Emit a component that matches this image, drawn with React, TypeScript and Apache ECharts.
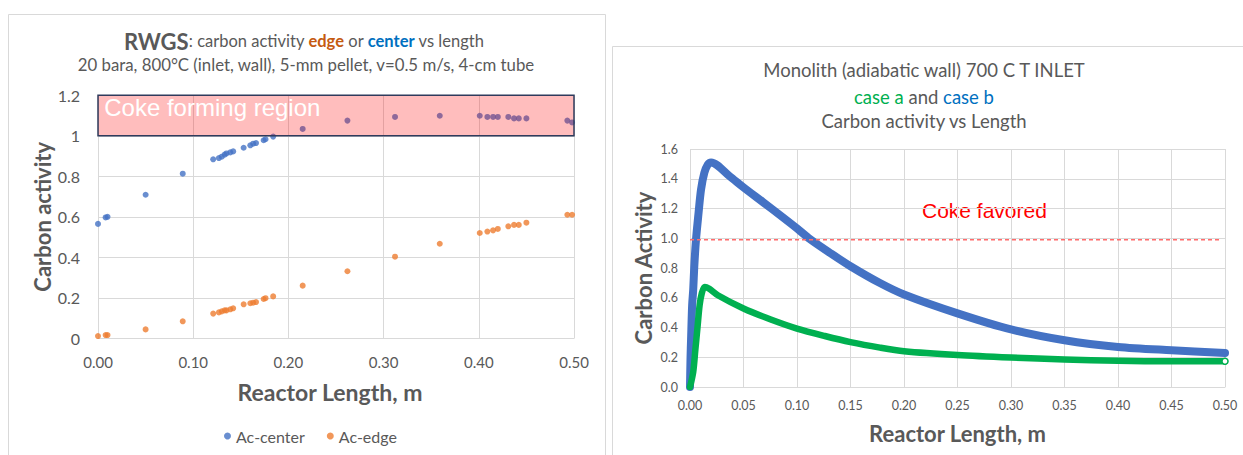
import React, { useEffect, useRef } from "react";
import * as echarts from "echarts";

// ---- Left chart (RWGS) ----
const positions = [0.0, 0.008, 0.010, 0.050, 0.089, 0.121, 0.127, 0.130, 0.133, 0.135, 0.139, 0.142, 0.153, 0.160, 0.163, 0.166, 0.174, 0.176, 0.184, 0.215, 0.262, 0.312, 0.359, 0.401, 0.409, 0.415, 0.420, 0.431, 0.437, 0.442, 0.450, 0.493, 0.498];
const acCenter = [0.565, 0.597, 0.600, 0.709, 0.813, 0.884, 0.890, 0.897, 0.907, 0.913, 0.918, 0.923, 0.941, 0.953, 0.961, 0.964, 0.978, 0.983, 0.996, 1.034, 1.075, 1.093, 1.099, 1.099, 1.093, 1.093, 1.093, 1.093, 1.086, 1.086, 1.086, 1.075, 1.066];
const acEdge = [0.011, 0.016, 0.016, 0.044, 0.084, 0.122, 0.128, 0.133, 0.138, 0.138, 0.143, 0.148, 0.168, 0.173, 0.176, 0.179, 0.194, 0.198, 0.207, 0.260, 0.331, 0.403, 0.467, 0.520, 0.527, 0.533, 0.540, 0.553, 0.560, 0.560, 0.571, 0.610, 0.610];
const cokeRegion = { xFrom: 0, xTo: 0.5, yFrom: 1.0, yTo: 1.2 };

// ---- Right chart (Monolith) ----
const caseBX = [0, 0.0005, 0.001, 0.002, 0.003, 0.004, 0.0056, 0.008, 0.0103, 0.0134, 0.0166, 0.0197, 0.0369, 0.0494, 0.068, 0.0838, 0.100, 0.112, 0.131, 0.150, 0.1775, 0.200, 0.250, 0.300, 0.350, 0.400, 0.450, 0.500];
const caseBY = [0.0, 0.2, 0.32, 0.55, 0.654, 0.811, 0.99, 1.17, 1.327, 1.44, 1.495, 1.51, 1.418, 1.346, 1.244, 1.157, 1.066, 0.995, 0.901, 0.812, 0.699, 0.622, 0.495, 0.387, 0.314, 0.269, 0.247, 0.229];
const caseAX = [0, 0.003, 0.005, 0.007, 0.009, 0.011, 0.0138, 0.018, 0.026, 0.050, 0.0755, 0.100, 0.126, 0.150, 0.1775, 0.200, 0.250, 0.300, 0.350, 0.400, 0.450, 0.500];
const caseAY = [0.0, 0.1, 0.25, 0.4, 0.55, 0.63, 0.673, 0.66, 0.617, 0.528, 0.454, 0.393, 0.343, 0.302, 0.265, 0.241, 0.215, 0.198, 0.185, 0.176, 0.173, 0.173];
const cokeLimitX = [0, 0.495];
const cokeLimitY = [0.99, 0.99];

const GREY = "#595959";
const GRID = "#d9d9d9";
const CAL = "Lato, 'Open Sans', sans-serif";
const ARIAL = "'Liberation Sans', Arial, sans-serif";

const zip = (xs: number[], ys: number[]) => xs.map((x, i) => [x, ys[i]]);

export default function App() {
  const ref = useRef<HTMLDivElement>(null);
  useEffect(() => {
    if (!ref.current) return;
    const chart = echarts.init(ref.current, undefined, { renderer: "svg" });
    const axisLabel = (size: number) => ({ color: GREY, fontSize: size, fontFamily: CAL });
    const caseAData: any[] = zip(caseAX, caseAY);
    const last = caseAData.length - 1;
    caseAData[last] = {
      value: caseAData[last],
      symbol: "circle", symbolSize: 6,
      itemStyle: { color: "#ffffff", borderColor: "#00B050", borderWidth: 1.5 },
    };
    chart.setOption({
      animation: false,
      backgroundColor: "#ffffff",
      graphic: [
        { type: "rect", shape: { x: 8.5, y: 14.5, width: 597, height: 470 }, style: { fill: "none", stroke: GRID, lineWidth: 1 } },
        { type: "rect", shape: { x: 612.5, y: 46.5, width: 660, height: 470 }, style: { fill: "none", stroke: GRID, lineWidth: 1 } },
        {
          type: "text", x: 304, y: 41,
          style: {
            text: "{b|RWGS}{n|: carbon activity }{e|edge}{n| or }{c|center}{n| vs length}",
            textAlign: "center", textVerticalAlign: "middle",
            rich: {
              b: { fontFamily: CAL, fontSize: 22, fontWeight: "bold", fill: GREY },
              n: { fontFamily: CAL, fontSize: 16.5, fill: GREY },
              e: { fontFamily: CAL, fontSize: 16.5, fontWeight: "bold", fill: "#C55A11" },
              c: { fontFamily: CAL, fontSize: 16.5, fontWeight: "bold", fill: "#0070C0" },
            },
          },
        },
        {
          type: "text", x: 306, y: 64,
          style: { text: "20 bara, 800°C (inlet, wall), 5-mm pellet, v=0.5 m/s, 4-cm tube", textAlign: "center", textVerticalAlign: "middle", fontFamily: CAL, fontSize: 16.8, fill: GREY },
        },
        {
          type: "text", x: 924, y: 70,
          style: { text: "Monolith (adiabatic wall) 700 C T INLET", textAlign: "center", textVerticalAlign: "middle", fontFamily: CAL, fontSize: 18.5, fill: GREY },
        },
        {
          type: "text", x: 924, y: 97,
          style: {
            text: "{g|case a}{n| and }{b|case b}",
            textAlign: "center", textVerticalAlign: "middle",
            rich: {
              g: { fontFamily: CAL, fontSize: 18.5, fill: "#00B050" },
              n: { fontFamily: CAL, fontSize: 18.5, fill: GREY },
              b: { fontFamily: CAL, fontSize: 18.5, fill: "#0070C0" },
            },
          },
        },
        {
          type: "text", x: 924, y: 121,
          style: { text: "Carbon activity vs Length", textAlign: "center", textVerticalAlign: "middle", fontFamily: CAL, fontSize: 18.5, fill: GREY },
        },
        {
          type: "text", x: 922, y: 210,
          style: { text: "Coke favored", textAlign: "left", textVerticalAlign: "middle", fontFamily: ARIAL, fontSize: 21, fill: "#FF0000" },
        },
      ],
      legend: {
        data: ["Ac-center", "Ac-edge"],
        left: 219, top: 423,
        icon: "circle", itemWidth: 7, itemHeight: 7, itemGap: 22,
        textStyle: { color: GREY, fontSize: 16, fontFamily: CAL },
      },
      grid: [
        { left: 98, right: 669, top: 95.3, bottom: 116.7 },
        { left: 690, right: 18, top: 149, bottom: 68 },
      ],
      xAxis: [
        {
          gridIndex: 0, type: "value", min: 0, max: 0.5, interval: 0.1,
          name: "Reactor Length, m", nameLocation: "middle", nameGap: 42,
          nameTextStyle: { color: GREY, fontSize: 23, fontWeight: "bold", fontFamily: CAL, padding: [0, 12, 0, 0] },
          axisLine: { lineStyle: { color: GRID } }, axisTick: { show: false },
          axisLabel: { ...axisLabel(15), margin: 16, formatter: (v: number) => v.toFixed(2) },
          splitLine: { show: true, lineStyle: { color: GRID } },
        },
        {
          gridIndex: 1, type: "value", min: 0, max: 0.5, interval: 0.05,
          name: "Reactor Length, m", nameLocation: "middle", nameGap: 35,
          nameTextStyle: { color: GREY, fontSize: 22, fontWeight: "bold", fontFamily: CAL },
          axisLine: { lineStyle: { color: GRID } }, axisTick: { show: false },
          axisLabel: { ...axisLabel(12.5), margin: 12, formatter: (v: number) => v.toFixed(2) },
          splitLine: { show: true, lineStyle: { color: GRID } },
        },
      ],
      yAxis: [
        {
          gridIndex: 0, type: "value", min: 0, max: 1.2, interval: 0.2,
          name: "Carbon activity", nameLocation: "middle", nameGap: 45,
          nameTextStyle: { color: GREY, fontSize: 22, fontWeight: "bold", fontFamily: CAL },
          axisLine: { show: false }, axisTick: { show: false },
          axisLabel: { ...axisLabel(16), margin: 18 },
          splitLine: { lineStyle: { color: GRID } },
        },
        {
          gridIndex: 1, type: "value", min: 0, max: 1.6, interval: 0.2,
          name: "Carbon Activity", nameLocation: "middle", nameGap: 36,
          nameTextStyle: { color: GREY, fontSize: 22, fontWeight: "bold", fontFamily: CAL },
          axisLine: { show: false }, axisTick: { show: false },
          axisLabel: { ...axisLabel(12.5), margin: 12, formatter: (v: number) => v.toFixed(1) },
          splitLine: { lineStyle: { color: GRID } },
        },
      ],
      series: [
        {
          name: "Ac-center", type: "scatter", xAxisIndex: 0, yAxisIndex: 0,
          data: zip(positions, acCenter), symbolSize: 6, itemStyle: { color: "#4472C4" },
        },
        {
          name: "Ac-edge", type: "scatter", xAxisIndex: 0, yAxisIndex: 0,
          data: zip(positions, acEdge), symbolSize: 6, itemStyle: { color: "#ED7D31" },
        },
        {
          name: "region", type: "scatter", xAxisIndex: 0, yAxisIndex: 0, data: [],
          markArea: {
            z: 10, silent: true,
            itemStyle: { color: "rgba(255,0,0,0.26)", borderColor: "#2F3B5C", borderWidth: 1.5 },
            label: { show: true, position: [7, 1], color: "#ffffff", fontSize: 24, fontFamily: ARIAL },
            data: [[
              { name: "Coke forming region", coord: [cokeRegion.xFrom, cokeRegion.yTo] },
              { coord: [cokeRegion.xTo, cokeRegion.yFrom] },
            ]],
          },
        },
        {
          name: "case b", type: "line", xAxisIndex: 1, yAxisIndex: 1,
          data: zip(caseBX, caseBY), showSymbol: false, symbol: "none", smooth: 0.3,
          lineStyle: { color: "#4472C4", width: 8, cap: "round", join: "round" },
          itemStyle: { color: "#4472C4" },
        },
        {
          name: "case a", type: "line", xAxisIndex: 1, yAxisIndex: 1,
          data: caseAData, symbol: "none", showSymbol: true, showAllSymbol: true, smooth: 0.3,
          lineStyle: { color: "#00B050", width: 6.5, cap: "round", join: "round" },
          itemStyle: { color: "#00B050" },
        },
        {
          name: "coke limit", type: "line", xAxisIndex: 1, yAxisIndex: 1,
          data: zip(cokeLimitX, cokeLimitY), symbol: "none",
          lineStyle: { color: "#FF6B6B", width: 1.5, type: [4, 3] },
        },
      ],
    });
    return () => chart.dispose();
  }, []);
  return (
    <div
      ref={ref}
      style={{ position: "fixed", left: 0, top: 0, width: 1243, height: 455, background: "#fff" }}
    />
  );
}
